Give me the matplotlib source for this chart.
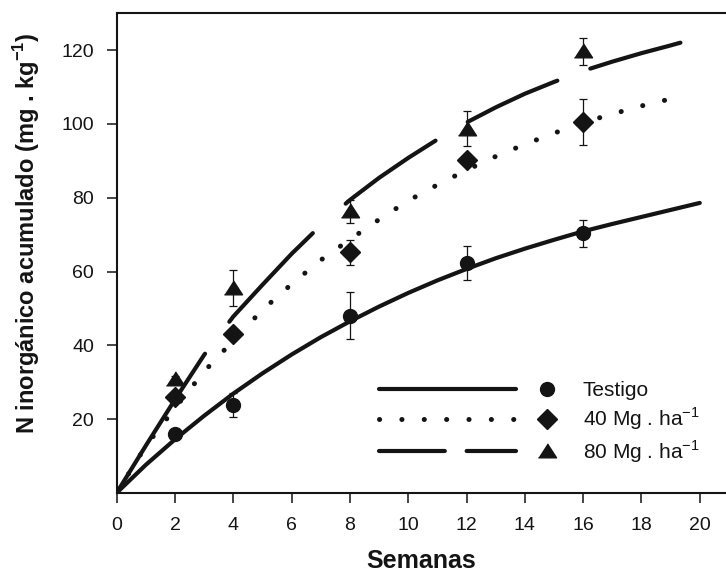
import matplotlib
matplotlib.use('Agg')
import matplotlib.pyplot as plt
from matplotlib.lines import Line2D
from matplotlib.legend_handler import HandlerBase

plt.rcParams['font.family'] = ['Liberation Sans', 'DejaVu Sans']
plt.rcParams['mathtext.fontset'] = 'custom'
plt.rcParams['mathtext.rm'] = 'Liberation Sans'
plt.rcParams['mathtext.bf'] = 'Liberation Sans:bold'
plt.rcParams['lines.scale_dashes'] = False

INK = '#141414'

# measured points (weeks)
weeks = [2, 4, 8, 12, 16]
testigo = [15.9, 23.9, 48.0, 62.3, 70.4]
testigo_err = [1.0, 3.3, 6.4, 4.6, 3.7]
mg40 = [26.1, 43.1, 65.2, 90.3, 100.5]
mg40_err = [1.0, 1.0, 3.4, 1.5, 6.2]
mg80 = [30.8, 55.5, 76.3, 98.7, 119.7]
mg80_err = [1.0, 4.9, 3.2, 4.7, 3.6]

# fitted curves
fit_x = list(range(21))
fit_testigo = [0, 7.6, 14.5, 20.9, 26.9, 32.4, 37.5, 42.2, 46.5, 50.5, 54.2,
               57.6, 60.7, 63.6, 66.2, 68.6, 70.9, 72.9, 74.8, 76.7, 78.6]
fit40_x = list(range(20)) + [19.4]
fit_40 = [0, 12.7, 23.0, 32.9, 41.3, 49.6, 56.6, 63.1, 68.7, 74.1, 79.2,
          83.5, 87.5, 91.2, 94.5, 97.5, 100.4, 102.7, 104.9, 106.8, 107.4]
fit80_x = list(range(20)) + [19.5]
fit_80 = [0, 12.8, 25.3, 37.4, 47.8, 56.4, 64.8, 72.5, 79.4, 85.4, 90.8,
          95.8, 100.4, 104.5, 108.2, 111.4, 114.4, 116.9, 119.2, 121.3, 122.4]

labels = ['Testigo', r'40 Mg . ha$^{-1}$', r'80 Mg . ha$^{-1}$']

LW = 3.0
DOT_LW = 3.6
DOTS = (0, (0.1, 16))
LONGDASH = (0, (118.7, 28.9, 87.7, 31.8, 79.1, 26.8, 71.1, 25.3, 67.5, 300))
LEGDASH = (0, (47.4, 15.7, 35.9, 300))
TRI = [(-1, -0.7), (1, -0.7), (0, 0.85)]


class LineMarkerHandler(HandlerBase):
    # line first, then the marker, then the label
    def create_artists(self, legend, orig_handle, xdescent, ydescent,
                       width, height, fontsize, trans):
        line, mark = orig_handle
        y = height / 2 - ydescent
        x0 = -xdescent
        seg = Line2D([x0 + 1.5, x0 + 0.79 * width - 1.5], [y, y])
        seg.update_from(line)
        seg.set_transform(trans)
        dot = Line2D([x0 + 0.95 * width], [y])
        dot.update_from(mark)
        dot.set_linestyle('none')
        dot.set_transform(trans)
        return [seg, dot]


fig = plt.figure(figsize=(7.26, 5.77), dpi=100)
ax = fig.add_axes([0.1607, 0.1458, 0.8393, 0.8311])

ax.plot(fit_x, fit_testigo, color=INK, lw=LW, solid_capstyle='round')
ax.plot(fit40_x, fit_40, color=INK, lw=DOT_LW, linestyle=DOTS,
        dash_capstyle='round')
ax.plot(fit80_x, fit_80, color=INK, lw=LW, linestyle=LONGDASH,
        dash_capstyle='round')

for vals, err in [(testigo, testigo_err), (mg40, mg40_err), (mg80, mg80_err)]:
    ax.errorbar(weeks, vals, yerr=err, fmt='none', ecolor=INK,
                elinewidth=0.9, capsize=3, capthick=0.9, zorder=3)

ax.plot(weeks, testigo, 'o', color=INK, ms=10, zorder=4)
ax.plot(weeks, mg40, 'D', color=INK, ms=9.9, zorder=4)
ax.plot(weeks, mg80, marker=TRI, linestyle='none', color=INK, ms=13, zorder=4)

ax.set_xlim(0, 20.9)
ax.set_ylim(0, 130)
ax.set_xticks(range(0, 21, 2))
ax.set_yticks(range(20, 121, 20))
ax.tick_params(direction='out', length=7.2, width=1.1, labelsize=14,
               colors=INK)
ax.tick_params(axis='x', pad=10.5)
ax.tick_params(axis='y', pad=9)
for side in ['left', 'bottom', 'top']:
    ax.spines[side].set_linewidth(1.5)
    ax.spines[side].set_color(INK)
ax.spines['right'].set_visible(False)

ax.set_xlabel('Semanas', fontsize=18, fontweight='bold', color=INK)
ax.xaxis.set_label_coords(0.5, -0.118)
ax.set_ylabel(r'N inorgánico acumulado (mg . kg$^{\mathbf{-1}}$)',
              fontsize=17, fontweight='bold', color=INK)
ax.yaxis.set_label_coords(-0.122, 0.542)

leg_lines = [Line2D([], [], color=INK, lw=LW, solid_capstyle='round'),
             Line2D([], [], color=INK, lw=DOT_LW, linestyle=DOTS,
                    dash_capstyle='round'),
             Line2D([], [], color=INK, lw=LW, linestyle=LEGDASH,
                    dash_capstyle='round')]
leg_marks = [Line2D([], [], marker='o', color=INK, ms=10),
             Line2D([], [], marker='D', color=INK, ms=9.9),
             Line2D([], [], marker=TRI, color=INK, ms=13)]
ax.legend(handles=list(zip(leg_lines, leg_marks)), labels=labels,
          handler_map={tuple: LineMarkerHandler()},
          loc='upper left', bbox_to_anchor=(0.4267, 0.2333),
          frameon=False, fontsize=15, handlelength=8.6, handletextpad=1.3,
          labelspacing=0.28, borderpad=0, borderaxespad=0, labelcolor=INK)

fig.savefig('out.png', dpi=100)
